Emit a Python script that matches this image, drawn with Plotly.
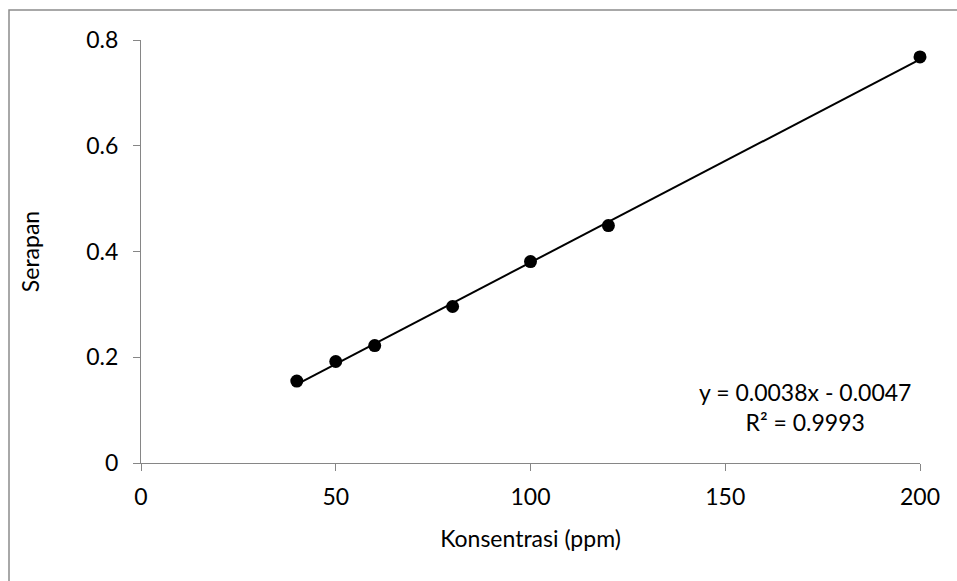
import numpy as np
import plotly.graph_objects as go

konsentrasi = [40, 50, 60, 80, 100, 120, 200]
serapan = [0.155, 0.192, 0.222, 0.296, 0.381, 0.449, 0.768]
eq_text = "y = 0.0038x - 0.0047<br>R² = 0.9993"
x_ticks = [0, 50, 100, 150, 200]
y_ticks = [0, 0.2, 0.4, 0.6, 0.8]

slope, intercept = np.polyfit(konsentrasi, serapan, 1)
x_fit = [min(konsentrasi), max(konsentrasi)]
y_fit = [slope * v + intercept for v in x_fit]

W, H = 957, 581
L, R, T, B = 141, 37, 40, 118
pw, ph = W - L - R, H - T - B

fig = go.Figure()
fig.add_trace(go.Scatter(x=x_fit, y=y_fit, mode="lines",
                         line=dict(color="black", width=2), cliponaxis=False,
                         hoverinfo="skip", showlegend=False))
fig.add_trace(go.Scatter(x=konsentrasi, y=serapan, mode="markers",
                         marker=dict(color="black", size=13), cliponaxis=False,
                         showlegend=False))

font = "Lato, 'Open Sans', sans-serif"
axis_common = dict(showline=True, linecolor="#868686", linewidth=1.3,
                   ticks="outside", tickcolor="#868686", ticklen=7, tickwidth=1.3,
                   showgrid=False, zeroline=False,
                   tickfont=dict(family=font, size=23, color="black"))
fig.update_xaxes(range=[0, 200], tickvals=x_ticks, ticktext=[str(v) for v in x_ticks],
                 ticklabelstandoff=6,
                 title=dict(text="Konsentrasi (ppm)", font=dict(family=font, size=23, color="black"), standoff=22),
                 **axis_common)
fig.update_yaxes(range=[0, 0.8], tickvals=y_ticks, ticktext=["0", "0.2", "0.4", "0.6", "0.8"],
                 ticklabelstandoff=10,
                 title=dict(text="Serapan", font=dict(family=font, size=23, color="black"), standoff=40),
                 **axis_common)

# chart-area border (extends past the right and bottom edges as in the reference)
fig.add_shape(type="rect", xref="paper", yref="paper",
              x0=(9 - L) / pw, x1=(W + 5 - L) / pw,
              y0=(T + ph - (H + 5)) / ph, y1=(T + ph - 10) / ph,
              line=dict(color="#8c8c8c", width=1.5), layer="below")

fig.add_annotation(x=(805 - L) / pw, y=(T + ph - 407) / ph, xref="x domain", yref="y domain",
                   xanchor="center", yanchor="middle",
                   text=eq_text, showarrow=False, align="center",
                   font=dict(family=font, size=23, color="black"))

fig.update_layout(width=W, height=H, margin=dict(l=L, r=R, t=T, b=B),
                  paper_bgcolor="white", plot_bgcolor="white")
fig.write_html("out.html")
